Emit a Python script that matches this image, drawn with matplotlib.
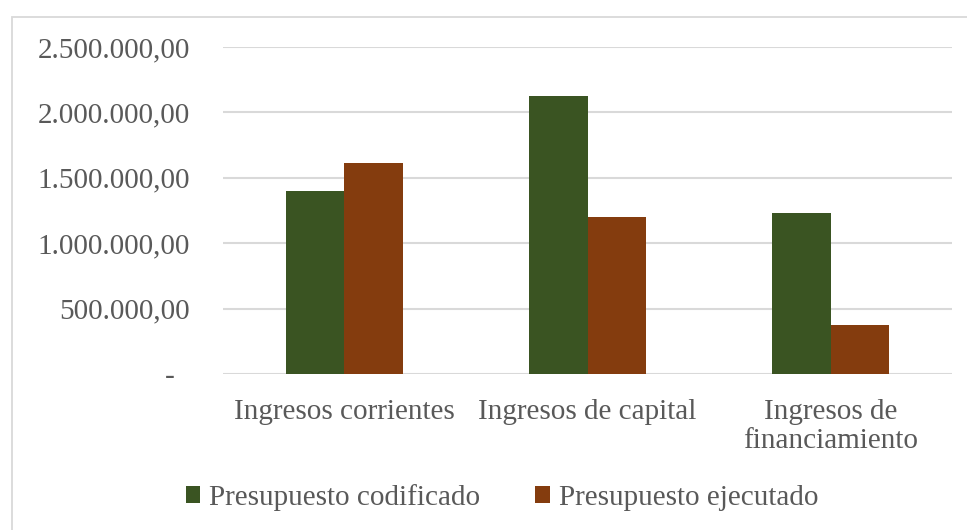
import numpy as np
import matplotlib.pyplot as plt
from matplotlib.patches import Rectangle
from matplotlib.ticker import FuncFormatter

plt.rcParams.update({
    "font.family": "serif",
    "font.serif": ["Liberation Serif", "DejaVu Serif"],
    "font.size": 21,
})

# Data
categorias = ["Ingresos corrientes", "Ingresos de capital", "Ingresos de\nfinanciamiento"]
codificado = [1400000, 2122000, 1229000]
ejecutado = [1617000, 1197000, 374000]
series = ["Presupuesto codificado", "Presupuesto ejecutado"]

verde = "#3A5422"
cafe = "#843C0E"
gris_txt = "#595959"
gris_grid = "#D9D9D9"

fig = plt.figure(figsize=(9.67, 5.30), dpi=100)
ax = fig.add_axes([0.2306, 0.2943, 0.7539, 0.617])

# chart area border
fig.patches.append(Rectangle((12 / 967, -0.1), 1.2, 1 - 17 / 530 + 0.1,
                             transform=fig.transFigure, fill=False,
                             edgecolor=gris_grid, lw=1.3))

x = np.arange(len(categorias))
w = 0.24
ax.bar(x - w / 2, codificado, w, color=verde, label=series[0], zorder=3)
ax.bar(x + w / 2, ejecutado, w, color=cafe, label=series[1], zorder=3)

ax.set_xlim(-0.5, len(categorias) - 0.5)
ax.set_ylim(0, 2500000)
ax.set_yticks(np.arange(0, 2500001, 500000))


def fmt(v, pos):
    if v == 0:
        return "-  "
    s = f"{v:,.2f}"
    return s.replace(",", "X").replace(".", ",").replace("X", ".")


ax.yaxis.set_major_formatter(FuncFormatter(fmt))
ax.set_xticks(x)
ax.set_xticklabels(categorias, linespacing=1.15)

ax.grid(axis="y", color=gris_grid, lw=1.5, zorder=0)
for s in ax.spines.values():
    s.set_visible(False)
ax.tick_params(axis="both", length=0, colors=gris_txt, labelsize=21)
ax.tick_params(axis="y", pad=24)
ax.tick_params(axis="x", pad=18)

fig.legend(loc="center", bbox_to_anchor=(0.519, 0.062), ncol=2, frameon=False,
           handlelength=0.5, handleheight=0.5, handletextpad=0.3,
           columnspacing=1.9, fontsize=21, labelcolor=gris_txt)

fig.savefig("out.png", dpi=100)
